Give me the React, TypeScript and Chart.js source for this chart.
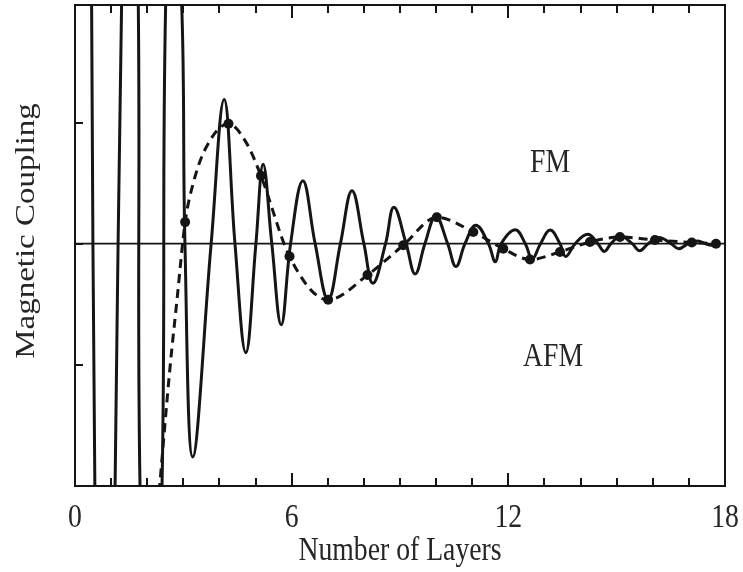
import React, { useEffect, useRef } from "react";
import { Chart, registerables } from "chart.js";

Chart.register(...registerables);

// Oscillating interlayer coupling (solid), read at its extrema and zero crossings
const solidX = [
  0.38, 0.46, 0.55, 0.83, 1.11, 1.29, 1.52, 1.753, 1.8, 2.1, 2.41, 2.51, 2.73, 2.955,
  3.045, 3.26, 3.77, 4.13, 4.43, 4.73, 5.01, 5.21, 5.45, 5.71, 5.97, 6.31, 6.65, 7.01,
  7.35, 7.67, 8.0, 8.25, 8.6, 8.83, 9.17, 9.42, 9.69, 9.99, 10.32, 10.55, 10.8, 11.1,
  11.45, 11.64, 11.8, 12.19, 12.47, 12.66, 12.89, 13.16, 13.43, 13.59, 13.85, 14.2,
  14.48, 14.66, 14.84, 15.11, 15.43, 15.64, 15.87, 16.17, 16.51, 16.72, 16.98, 17.25,
  17.45, 17.63, 17.81,
];
const solidY = [
  8, 1.97, -2.0, -10, -2.0, 1.97, 6, 1.97, -2.0, -4.5, -2.0, 1.97, 2.8, 1.97,
  0, -1.76, 0, 1.19, 0, -0.9, 0, 0.655, 0, -0.67, 0, 0.52, 0, -0.463,
  0, 0.437, 0, -0.327, 0, 0.3, 0, -0.25, 0, 0.225, 0, -0.188, 0, 0.153,
  0, -0.15, 0, 0.115, 0, -0.127, 0, 0.112, 0, -0.106, 0, 0.077,
  0, -0.064, 0, 0.063, 0, -0.058, 0, 0.052, 0, -0.042, 0, 0.022,
  0, -0.013, 0,
];

// Envelope seen at whole layers (dashed)
const dashX = [
  2.33, 2.63, 2.82, 3.05, 3.28, 3.6, 4.25, 4.75, 5.15, 5.94, 7.01, 8.1, 9.09, 10.02,
  11.03, 11.86, 12.6, 13.43, 14.26, 15.09, 16.06, 17.08, 17.75,
];
const dashY = [
  -2.05, -1.025, -0.477, 0.178, 0.505, 0.777, 0.99, 0.83, 0.56, -0.105, -0.463, -0.259,
  -0.013, 0.218, 0.096, -0.041, -0.131, -0.068, 0.014, 0.055, 0.03, 0.01, 0,
];

// Sampled layer values (filled circles)
const dotX = [
  3.05, 4.25, 5.15, 5.94, 7.01, 8.1, 9.09, 10.02, 11.03, 11.86, 12.6, 13.43, 14.26,
  15.09, 16.06, 17.08, 17.75,
];
const dotY = [
  0.178, 0.99, 0.56, -0.105, -0.463, -0.259, -0.013, 0.218, 0.096, -0.041, -0.131,
  -0.068, 0.014, 0.055, 0.03, 0.01, 0,
];

const xRange = [0, 18];
const yRange = [-2.0, 1.97];
const xTickValues = [0, 6, 12, 18];
const xTickLabels = ["0", "6", "12", "18"];
const xMinorTickValues = [1, 2, 3, 4, 5, 7, 8, 9, 10, 11, 13, 14, 15, 16, 17];
const yTickValues = [-1, 0, 1];
const xTitle = "Number of Layers";
const yTitle = "Magnetic Coupling";
const regionLabels = ["FM", "AFM"];

const INK = "#151515";
const TEXT = "#262626";
const FONT = '33px "Liberation Serif", "Times New Roman", serif';
const SQUEEZE = 0.84;

const toPts = (xs: number[], ys: number[]) => xs.map((x, i) => ({ x, y: ys[i] }));

function squeezedText(ctx: CanvasRenderingContext2D, text: string, x: number, y: number) {
  ctx.save();
  ctx.translate(x, y);
  ctx.scale(SQUEEZE, 1);
  ctx.fillText(text, 0, 0);
  ctx.restore();
}

const framePlugin = {
  id: "frameAndText",
  afterDraw(chart: any) {
    const { ctx, chartArea: a, scales } = chart;
    const xs = scales.x;
    const ys = scales.y;
    ctx.save();

    // frame
    ctx.strokeStyle = INK;
    ctx.lineWidth = 2;
    ctx.strokeRect(a.left, a.top, a.right - a.left, a.bottom - a.top);

    // inward ticks
    ctx.beginPath();
    for (const v of xMinorTickValues) {
      const px = Math.round(xs.getPixelForValue(v));
      ctx.moveTo(px, a.bottom);
      ctx.lineTo(px, a.bottom - 8);
      ctx.moveTo(px, a.top);
      ctx.lineTo(px, a.top + 8);
    }
    for (const v of xTickValues) {
      const px = Math.round(xs.getPixelForValue(v));
      ctx.moveTo(px, a.bottom);
      ctx.lineTo(px, a.bottom - 13);
      ctx.moveTo(px, a.top);
      ctx.lineTo(px, a.top + 13);
    }
    for (const v of yTickValues) {
      const py = Math.round(ys.getPixelForValue(v));
      ctx.moveTo(a.left, py);
      ctx.lineTo(a.left + 8, py);
    }
    ctx.stroke();

    // text
    ctx.fillStyle = TEXT;
    ctx.font = FONT;
    ctx.textAlign = "center";
    ctx.textBaseline = "alphabetic";
    xTickValues.forEach((v, i) => {
      squeezedText(ctx, xTickLabels[i], xs.getPixelForValue(v), a.bottom + 41);
    });
    squeezedText(ctx, xTitle, (a.left + a.right) / 2, a.bottom + 74);

    ctx.save();
    ctx.translate(34, 231);
    ctx.rotate(-Math.PI / 2);
    ctx.scale(1, SQUEEZE);
    ctx.fillText(yTitle, 0, 0);
    ctx.restore();

    squeezedText(ctx, regionLabels[0], 550, 172);
    squeezedText(ctx, regionLabels[1], 553, 366);

    ctx.restore();
  },
};

export default function App() {
  const canvasRef = useRef<HTMLCanvasElement | null>(null);

  useEffect(() => {
    const canvas = canvasRef.current;
    if (!canvas) return;
    const chart = new Chart(canvas, {
      type: "scatter",
      data: {
        datasets: [
          {
            data: toPts(xRange, [0, 0]),
            showLine: true,
            borderColor: INK,
            borderWidth: 1.8,
            pointRadius: 0,
            clip: 0,
          },
          {
            data: toPts(solidX, solidY),
            showLine: true,
            borderColor: INK,
            borderWidth: 3,
            pointRadius: 0,
            tension: 0.4,
            cubicInterpolationMode: "default",
            capBezierPoints: false,
            clip: 0,
          },
          {
            data: toPts(dashX, dashY),
            showLine: true,
            borderColor: INK,
            borderWidth: 3,
            borderDash: [9, 6],
            pointRadius: 0,
            cubicInterpolationMode: "monotone",
            capBezierPoints: false,
            clip: 0,
          },
          {
            data: toPts(dotX, dotY),
            showLine: false,
            pointRadius: 5,
            pointBackgroundColor: INK,
            pointBorderWidth: 0,
            clip: 0,
          },
        ],
      } as any,
      options: {
        responsive: false,
        animation: false,
        devicePixelRatio: 1,
        layout: { padding: { left: 75, right: 18, top: 1, bottom: 86 } },
        plugins: { legend: { display: false }, tooltip: { enabled: false } },
        events: [],
        scales: {
          x: { type: "linear", display: false, min: xRange[0], max: xRange[1] },
          y: { type: "linear", display: false, min: yRange[0], max: yRange[1] },
        },
      } as any,
      plugins: [framePlugin],
    });
    return () => chart.destroy();
  }, []);

  return (
    <div style={{ position: "fixed", left: 0, top: 0, width: 743, height: 572, background: "#fff" }}>
      <canvas ref={canvasRef} width={743} height={572} style={{ display: "block" }} />
    </div>
  );
}
